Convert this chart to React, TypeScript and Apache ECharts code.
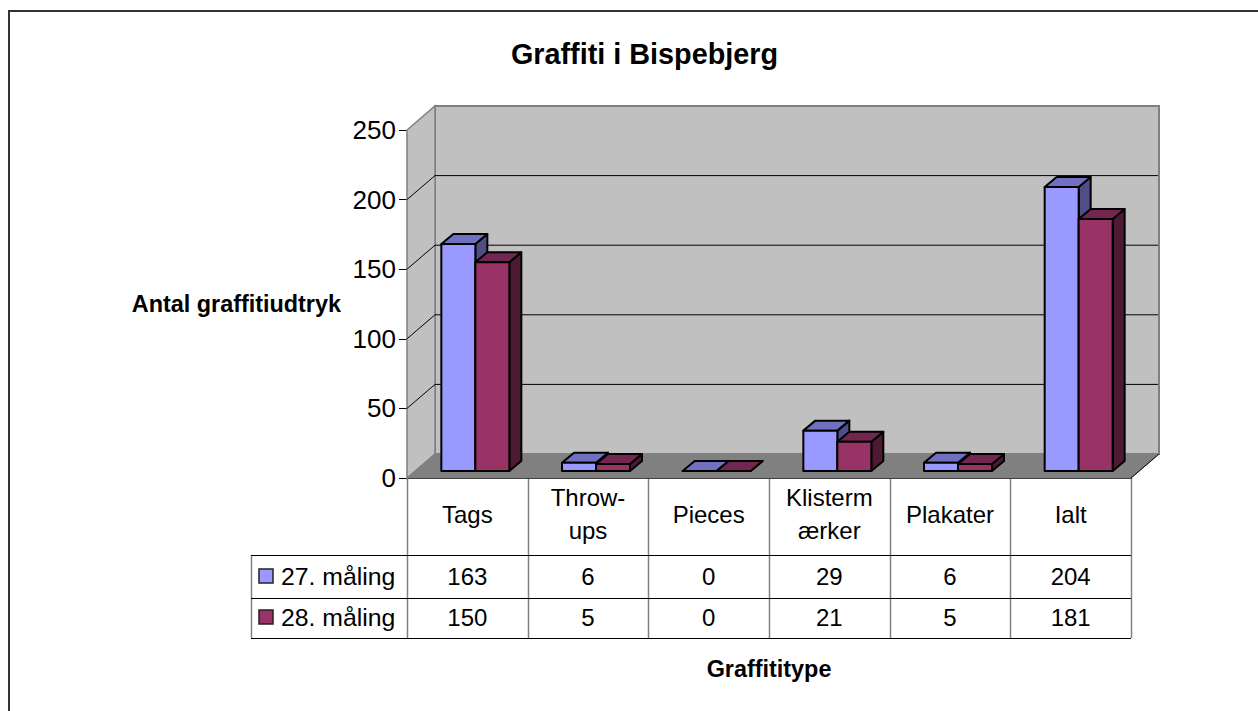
import React, { useEffect, useRef } from "react";
import * as echarts from "echarts";

const categories = ["Tags", "Throw-\nups", "Pieces", "Klisterm\nærker", "Plakater", "Ialt"];
const seriesNames = ["27. måling", "28. måling"];
const values27 = [163, 6, 0, 29, 6, 204];
const values28 = [150, 5, 0, 21, 5, 181];
const yTicks = [0, 50, 100, 150, 200, 250];
const FONT = '"Liberation Sans", Arial, sans-serif';

const W = 1258, H = 711;
const GRID = { left: 407, top: 130, width: 724, height: 348 };
const WALL_DX = 28, WALL_DY = 24;
const BASE_DX = 8, BASE_DY = 7;
const BAR_DX = 12, BAR_DY = 10;
const TABLE = { legendLeft: 251, row0: 555, row1: 598, row2: 638 };
const GRAY = "#808080";

const shades = [
  { front: "#9999ff", top: "#7070c0", side: "#4f4f85" },
  { front: "#993366", top: "#732650", side: "#4d1a33" },
];

function wallsRender(params: any, api: any) {
  const c = params.coordSys;
  const x0 = c.x, x1 = c.x + c.width, yt = c.y, yb = c.y + c.height;
  const d = WALL_DX, e = WALL_DY;
  const children: any[] = [
    { type: "polygon", shape: { points: [[x0 + d, yt - e], [x1 + d, yt - e], [x1 + d, yb - e], [x0 + d, yb - e]] }, style: { fill: "#c0c0c0", stroke: GRAY, lineWidth: 2 } },
    { type: "polygon", shape: { points: [[x0, yt], [x0 + d, yt - e], [x0 + d, yb - e], [x0, yb]] }, style: { fill: "#c0c0c0", stroke: GRAY, lineWidth: 1.5 } },
    { type: "polygon", shape: { points: [[x0, yb], [x0 + d, yb - e], [x1 + d, yb - e], [x1, yb]] }, style: { fill: "#808080", stroke: GRAY, lineWidth: 1 } },
    { type: "line", shape: { x1: x1, y1: yb, x2: x1 + d, y2: yb - e }, style: { stroke: "#000", lineWidth: 1 } },
  ];
  yTicks.slice(1, -1).forEach((t) => {
    const y = api.coord([0, t])[1];
    children.push({ type: "polyline", shape: { points: [[x0, y], [x0 + d, y - e], [x1 + d - 1, y - e]] }, style: { fill: "none", stroke: "#000", lineWidth: 1 } });
  });
  return { type: "group", children };
}

function barRender(seriesIndex: number) {
  return (_params: any, api: any) => {
    const cat = api.value(0);
    const val = api.value(1);
    const center = api.coord([cat, 0]);
    const top = api.coord([cat, val]);
    const bw = api.size([1, 0])[0] * 0.2817;
    const s = shades[seriesIndex];
    const xl = center[0] + BASE_DX - bw + seriesIndex * bw;
    const xr = xl + bw;
    const yb = center[1] - BASE_DY;
    const yt = top[1] - BASE_DY;
    const style = (fill: string) => ({ fill, stroke: "#000", lineWidth: 2, lineJoin: "round" });
    return {
      type: "group",
      children: [
        { type: "polygon", shape: { points: [[xr, yt], [xr + BAR_DX, yt - BAR_DY], [xr + BAR_DX, yb - BAR_DY], [xr, yb]] }, style: style(s.side) },
        { type: "polygon", shape: { points: [[xl, yt], [xl + BAR_DX, yt - BAR_DY], [xr + BAR_DX, yt - BAR_DY], [xr, yt]] }, style: style(s.top) },
        { type: "polygon", shape: { points: [[xl, yt], [xr, yt], [xr, yb], [xl, yb]] }, style: style(s.front) },
      ],
    };
  };
}

function tableGraphics() {
  const colW = GRID.width / categories.length;
  const right = GRID.left + GRID.width;
  const yb = GRID.top + GRID.height;
  const out: any[] = [];
  const hline = (x1: number, x2: number, y: number) => out.push({ type: "line", shape: { x1, y1: y, x2, y2: y }, style: { stroke: "#000", lineWidth: 1 } });
  const vline = (x: number, y1: number, y2: number) => out.push({ type: "line", shape: { x1: x, y1, x2: x, y2 }, style: { stroke: GRAY, lineWidth: 1.5 } });
  for (let i = 0; i <= categories.length; i++) {
    vline(Math.round(GRID.left + i * colW) + 0.5, yb, TABLE.row2);
  }
  vline(TABLE.legendLeft + 0.5, TABLE.row0, TABLE.row2);
  hline(TABLE.legendLeft, right, TABLE.row0 + 0.5);
  hline(TABLE.legendLeft, right, TABLE.row1 + 0.5);
  hline(TABLE.legendLeft, right, TABLE.row2 + 0.5);

  const rows = [values27, values28];
  const rowY = [(TABLE.row0 + TABLE.row1) / 2 - 0.5, (TABLE.row1 + TABLE.row2) / 2 - 1];
  rows.forEach((vals, r) => {
    out.push({ type: "rect", shape: { x: 259, y: rowY[r] - 7, width: 14, height: 14 }, style: { fill: shades[r].front, stroke: "#222", lineWidth: 1.5 } });
    out.push({ type: "text", x: 281, y: rowY[r], style: { text: seriesNames[r], font: `24.8px ${FONT}`, fill: "#000", textAlign: "left", textVerticalAlign: "middle" } });
    vals.forEach((v, i) => {
      out.push({ type: "text", x: GRID.left + (i + 0.5) * colW, y: rowY[r], style: { text: String(v), font: `24px ${FONT}`, fill: "#000", textAlign: "center", textVerticalAlign: "middle" } });
    });
  });
  out.push({ type: "rect", shape: { x: 9, y: 11, width: W, height: H }, style: { fill: "none", stroke: "#333", lineWidth: 2 } });
  return out;
}

export default function App() {
  const ref = useRef<HTMLDivElement>(null);
  useEffect(() => {
    const chart = echarts.init(ref.current!, null, { renderer: "svg" });
    chart.setOption({
      animation: false,
      backgroundColor: "#fff",
      title: {
        text: "Graffiti i Bispebjerg",
        left: 639.5,
        top: 34,
        textAlign: "center",
        textStyle: { fontFamily: FONT, fontSize: 28.8, fontWeight: "bold", color: "#000" },
      },
      grid: { ...GRID, containLabel: false },
      xAxis: {
        type: "category",
        data: categories,
        name: "Graffititype",
        nameLocation: "middle",
        nameGap: 179,
        nameTextStyle: { fontFamily: FONT, fontSize: 23.4, fontWeight: "bold", color: "#000" },
        axisLine: { show: true, lineStyle: { color: "#000", width: 1 } },
        axisTick: { show: false },
        axisLabel: { interval: 0, margin: 36, fontFamily: FONT, fontSize: 24, lineHeight: 33, color: "#000", verticalAlign: "middle" },
        splitLine: { show: false },
      },
      yAxis: {
        type: "value",
        min: 0,
        max: 250,
        interval: 50,
        name: "Antal graffitiudtryk",
        nameLocation: "middle",
        nameRotate: 0,
        nameGap: 66,
        nameTextStyle: { fontFamily: FONT, fontSize: 23.4, fontWeight: "bold", color: "#000", padding: [8, 0, 0, 0] },
        axisLine: { show: true, lineStyle: { color: "#000", width: 1 } },
        axisTick: { show: true, length: 8, lineStyle: { color: "#000", width: 1 } },
        axisLabel: { margin: 11, fontFamily: FONT, fontSize: 26, color: "#000", padding: [0, 0, 6, 0] },
        splitLine: { show: false },
      },
      series: [
        { type: "custom", name: "walls", silent: true, z: 1, renderItem: wallsRender, data: [[0, 0]] },
        { type: "custom", name: seriesNames[0], silent: true, z: 2, renderItem: barRender(0), data: values27.map((v, i) => [i, v]), encode: { x: 0, y: 1 } },
        { type: "custom", name: seriesNames[1], silent: true, z: 3, renderItem: barRender(1), data: values28.map((v, i) => [i, v]), encode: { x: 0, y: 1 } },
      ],
      graphic: tableGraphics(),
    });
    return () => chart.dispose();
  }, []);
  return <div ref={ref} style={{ position: "fixed", left: 0, top: 0, width: W, height: H }} />;
}
